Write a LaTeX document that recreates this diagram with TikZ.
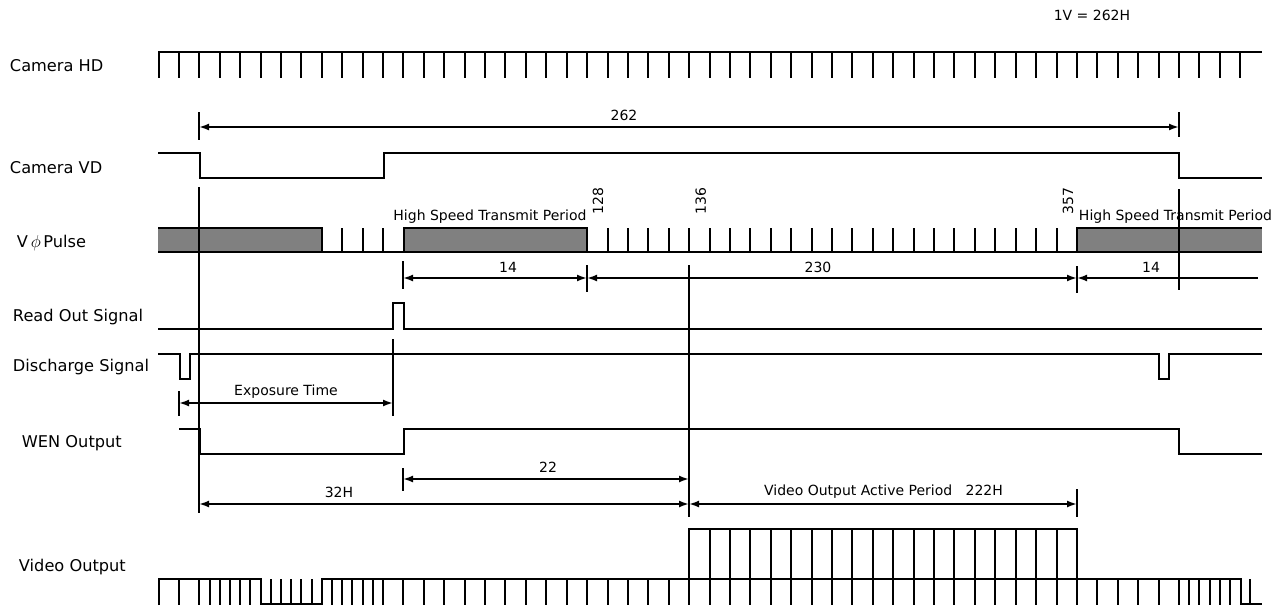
\documentclass[tikz,border=0pt]{standalone}
\usepackage{fontspec}
\setmainfont{DejaVu Sans}
\usetikzlibrary{arrows.meta}

\begin{document}
\begin{tikzpicture}[x=1pt,y=-1pt,line width=1.95pt,
        siglabel/.style={font=\fontsize{16.2}{18}\selectfont,inner sep=0pt},
        dimlabel/.style={font=\fontsize{14}{15}\selectfont,inner sep=0pt},
        dimboth/.style={{Latex[length=10pt,width=7pt]}-{Latex[length=10pt,width=7pt]}},
        dimleft/.style={{Latex[length=10pt,width=7pt]}-},
        wave/.style={line join=miter}]
    \useasboundingbox (0,0) rectangle (1286,610);

    \node[dimlabel] (period) at (1092,15) {1V = 262H};

    \node[siglabel,anchor=west] (hdlabel) at (9,65.5) {Camera HD};
    \node[siglabel,anchor=west] (vdlabel) at (9,167.5) {Camera VD};
    \node[siglabel,anchor=west] (vphilabel) at (16,243.5) {V\,$\phi$\,Pulse};
    \node[siglabel,anchor=west] (rolabel) at (12,317.5) {Read Out Signal};
    \node[siglabel,anchor=west] (dslabel) at (12,367.5) {Discharge Signal};
    \node[siglabel,anchor=west] (wenlabel) at (21,443.5) {WEN Output};
    \node[siglabel,anchor=west] (videolabel) at (18,567.5) {Video Output};

    % Camera HD
    \draw[wave] (159,78) -- (159,52) -- (1262,52);
    \foreach \k [evaluate=\k as \xk using round(158.5+\k*20.41)] in {1,...,53}
        \draw (\xk,52) -- (\xk,78);

    % Camera VD
    \draw[wave] (158,153) -- (200,153) -- (200,178) -- (384,178) -- (384,153)
        -- (1179,153) -- (1179,178) -- (1262,178);

    % V phi Pulse
    \fill[gray] (158,228) rectangle (322,252);
    \fill[gray] (404,228) rectangle (587,252);
    \fill[gray] (1077,228) rectangle (1262,252);
    \draw (158,252) -- (1262,252);
    \draw[wave] (158,228) -- (322,228) -- (322,252);
    \draw[wave] (404,252) -- (404,228) -- (587,228) -- (587,252);
    \draw[wave] (1077,252) -- (1077,228) -- (1262,228);
    \foreach \k [evaluate=\k as \xk using round(158.5+\k*20.41)] in {9,10,11,22,23,...,44}
        \draw (\xk,228) -- (\xk,252);

    % Read Out Signal
    \draw[wave] (158,329) -- (393,329) -- (393,303) -- (404,303) -- (404,329) -- (1262,329);

    % Discharge Signal
    \draw[wave] (158,354) -- (180,354) -- (180,379) -- (190,379) -- (190,354)
        -- (1159,354) -- (1159,379) -- (1169,379) -- (1169,354) -- (1262,354);

    % WEN Output
    \draw[wave] (179,429) -- (200,429) -- (200,454) -- (404,454) -- (404,429)
        -- (1179,429) -- (1179,454) -- (1262,454);

    % Video Output
    \draw[wave] (159,605) -- (159,579) -- (261,579) -- (261,604) -- (322,604)
        -- (322,579) -- (1241,579) -- (1241,604) -- (1262,604);
    \draw[wave] (689,579) -- (689,529) -- (1077,529) -- (1077,579);
    \foreach \k [evaluate=\k as \xk using round(158.5+\k*20.41)] in {1,2,2.5,3,3.5,4,4.5,5,5.5,6,6.5,7,7.5,8,8.5,9,9.5,10,10.5,11,12,13,...,50,50.5,51,51.5,52,52.5,53.5}
        \draw (\xk,579) -- (\xk,605);
    \foreach \k [evaluate=\k as \xk using round(158.5+\k*20.41)] in {27,...,44}
        \draw (\xk,529) -- (\xk,579);

    % marker lines
    \coordinate (mkatop) at (199,112);
    \coordinate (mkamid) at (199,127);
    \coordinate (mkabot) at (199,140);
    \coordinate (mkbtop) at (1179,112);
    \coordinate (mkbmid) at (1179,127);
    \coordinate (mkbbot) at (1179,137);
    \coordinate (startA) at (199,187);
    \coordinate (startB) at (199,513);
    \coordinate (endA) at (1179,189);
    \coordinate (endB) at (1179,290);
    \coordinate (activeA) at (689,265);
    \coordinate (activeB) at (689,517);
    \coordinate (expA) at (393,339);
    \coordinate (expB) at (393,416);
    \coordinate (dsA) at (179,391);
    \coordinate (dsB) at (179,416);

    \draw (mkatop) -- (mkabot);
    \draw (mkbtop) -- (mkbbot);
    \draw (startA) -- (startB);
    \draw (endA) -- (endB);
    \draw (activeA) -- (activeB);
    \draw (expA) -- (expB);
    \draw (dsA) -- (dsB);

    \coordinate (hsaA) at (403,261);
    \coordinate (hsaB) at (403,289);
    \coordinate (hsbA) at (587,265);
    \coordinate (hsbB) at (587,292);
    \coordinate (hscA) at (1077,266);
    \coordinate (hscB) at (1077,293);
    \coordinate (wenA) at (403,468);
    \coordinate (wenB) at (403,491);
    \coordinate (vidA) at (1077,489);
    \coordinate (vidB) at (1077,517);
    \draw (hsaA) -- (hsaB);
    \draw (hsbA) -- (hsbB);
    \draw (hscA) -- (hscB);
    \draw (wenA) -- (wenB);
    \draw (vidA) -- (vidB);

    % arrows
    \draw[dimboth] (mkamid) -- (mkbmid);
    \coordinate (rowa) at (403,278);
    \coordinate (rowb) at (587,278);
    \coordinate (rowc) at (1077,278);
    \coordinate (rowd) at (1258,278);
    \draw[dimboth] (rowa) -- (rowb);
    \draw[dimboth] (rowb) -- (rowc);
    \draw[dimleft] (rowc) -- (rowd);
    \coordinate (expl) at (179,403);
    \coordinate (expr) at (393,403);
    \draw[dimboth] (expl) -- (expr);
    \coordinate (wena) at (403,479);
    \coordinate (wenb) at (689,479);
    \draw[dimboth] (wena) -- (wenb);
    \coordinate (vida) at (199,504);
    \coordinate (vidb) at (689,504);
    \coordinate (vidc) at (1077,504);
    \draw[dimboth] (vida) -- (vidb);
    \draw[dimboth] (vidb) -- (vidc);

    % labels
    \node[dimlabel] (lbltotal) at (624,115.5) {262};
    \node[dimlabel,anchor=east] (lblhsa) at (587.5,216.5) {High Speed Transmit Period};
    \node[dimlabel,anchor=west] (lblhsb) at (1078,216.5) {High Speed Transmit Period};
    \node[dimlabel,rotate=90] (lbl128) at (598,201) {128};
    \node[dimlabel,rotate=90] (lbl136) at (700.7,201) {136};
    \node[dimlabel,rotate=90] (lbl357) at (1068,201) {357};
    \node[dimlabel] (lblfoura) at (508,267) {14};
    \node[dimlabel] (lbltwo) at (818,267) {230};
    \node[dimlabel] (lblfourb) at (1151,267) {14};
    \node[dimlabel] (lblexp) at (286,392) {Exposure Time};
    \node[dimlabel] (lbltt) at (548,467) {22};
    \node[dimlabel] (lblth) at (339,492) {32H};
    \node[dimlabel] (lblactive) at (883.5,492) {Video Output Active Period\ \ \ 222H};
\end{tikzpicture}
\end{document}
